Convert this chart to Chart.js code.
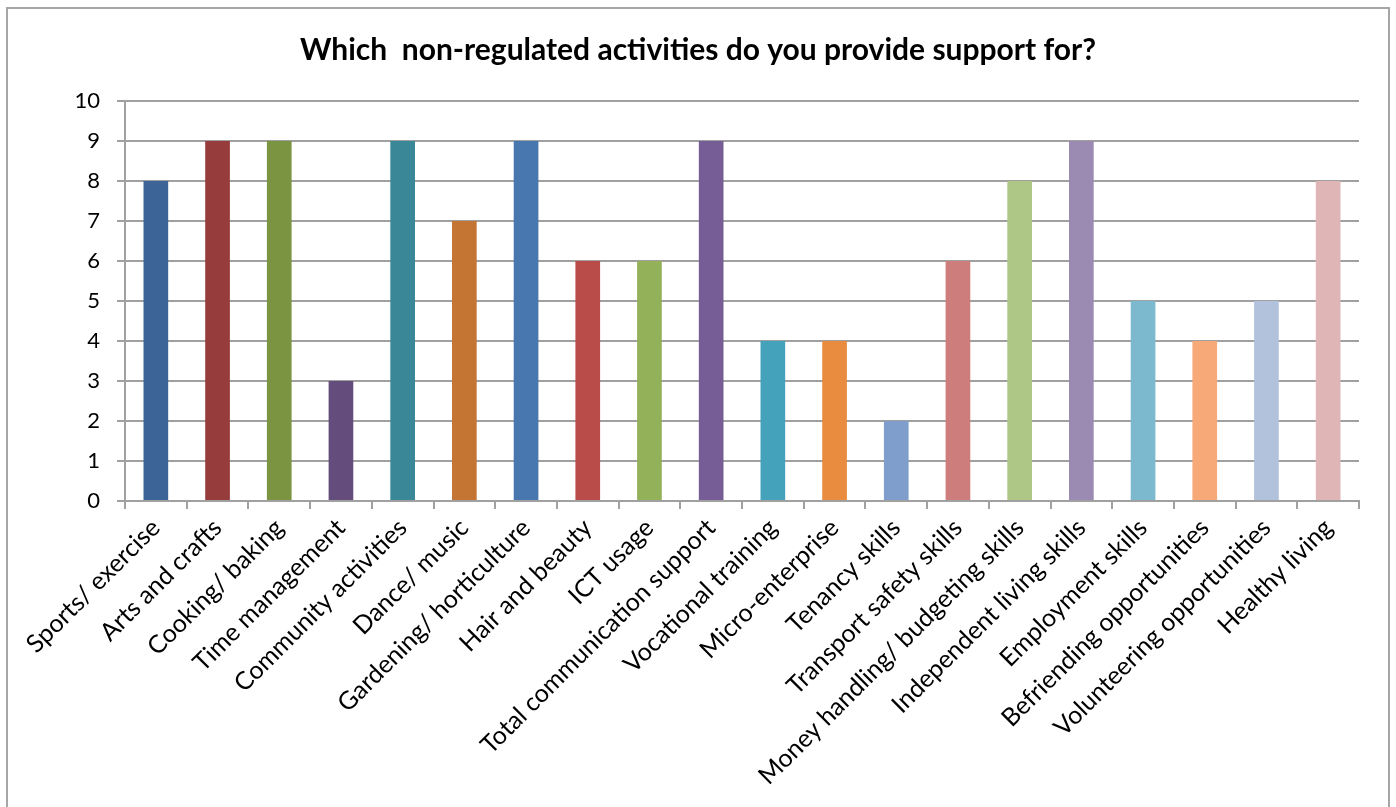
<!DOCTYPE html>
<html>
<head>
<meta charset="utf-8">
<script src="https://cdn.jsdelivr.net/npm/chart.js@4"></script>
<style>
    html, body { margin: 0; padding: 0; background: #fff; }
    #wrap { width: 1396px; height: 807px; position: relative; }
</style>
</head>
<body>
<div id="wrap"><canvas id="chart" width="1396" height="807"></canvas></div>
<script>
const categories = [
    'Sports/ exercise', 'Arts and crafts', 'Cooking/ baking', 'Time management',
    'Community activities', 'Dance/ music', 'Gardening/ horticulture', 'Hair and beauty',
    'ICT usage', 'Total communication support', 'Vocational training', 'Micro-enterprise',
    'Tenancy skills', 'Transport safety skills', 'Money handling/ budgeting skills',
    'Independent living skills', 'Employment skills', 'Befriending opportunities',
    'Volunteering opportunities', 'Healthy living'
];
const counts = [8, 9, 9, 3, 9, 7, 9, 6, 6, 9, 4, 4, 2, 6, 8, 9, 5, 4, 5, 8];
const barColors = [
    '#3c6496', '#963c3c', '#7a9442', '#644d7d', '#398797',
    '#c57533', '#4877b0', '#b94b49', '#93b158', '#775d96',
    '#45a2bb', '#e98c40', '#7f9ecc', '#cd7e7c', '#afc786',
    '#9b8ab2', '#7cb9cf', '#f7aa78', '#b3c2dc', '#dfb5b5'
];
const yTicks = [0, 1, 2, 3, 4, 5, 6, 7, 8, 9, 10];

const frame = {
    id: 'frame',
    beforeDraw(chart) {
        const ctx = chart.ctx;
        ctx.save();
        ctx.fillStyle = '#fff';
        ctx.fillRect(0, 0, chart.width, chart.height);
        ctx.strokeStyle = '#a6a6a6';
        ctx.lineWidth = 2;
        ctx.strokeRect(7, 8, 1382, 900);
        ctx.restore();
    }
};

const fontFamily = 'Lato, "Open Sans", sans-serif';

new Chart(document.getElementById('chart'), {
    type: 'bar',
    data: {
        labels: categories,
        datasets: [{
            data: counts,
            backgroundColor: barColors,
            borderWidth: 0,
            categoryPercentage: 1,
            barPercentage: 0.4
        }]
    },
    plugins: [frame],
    options: {
        responsive: false,
        animation: false,
        layout: { padding: 0 },
        scales: {
            x: {
                grid: { display: true, drawOnChartArea: false, offset: true, color: '#a0a0a0', lineWidth: 2, tickLength: 8 },
                border: { color: '#a0a0a0', width: 2 },
                ticks: {
                    color: '#000',
                    font: { family: fontFamily, size: 25 },
                    maxRotation: 45,
                    minRotation: 45,
                    autoSkip: false,
                    padding: 4
                },
                afterFit: scale => { scale.height = 306; }
            },
            y: {
                min: 0,
                max: 10,
                afterBuildTicks: scale => { scale.ticks = yTicks.map(v => ({ value: v })); },
                grid: { color: '#a0a0a0', lineWidth: 2, tickLength: 8 },
                border: { color: '#a0a0a0', width: 2 },
                ticks: {
                    color: '#000',
                    font: { family: fontFamily, size: 22 },
                    padding: 17
                },
                afterFit: scale => { scale.width = 125; }
            },
            // empty right-hand margin so the title stays centred on the page
            spacer: {
                type: 'linear',
                position: 'right',
                min: 0,
                max: 10,
                grid: { display: false },
                border: { display: false },
                ticks: { display: false },
                afterFit: scale => { scale.width = 37; }
            }
        },
        plugins: {
            legend: { display: false },
            tooltip: { enabled: false },
            title: {
                display: true,
                text: 'Which  non-regulated activities do you provide support for?',
                color: '#000',
                font: { family: fontFamily, size: 30, weight: 'bold' },
                padding: { top: 32, bottom: 33 }
            }
        }
    }
});
</script>
</body>
</html>
